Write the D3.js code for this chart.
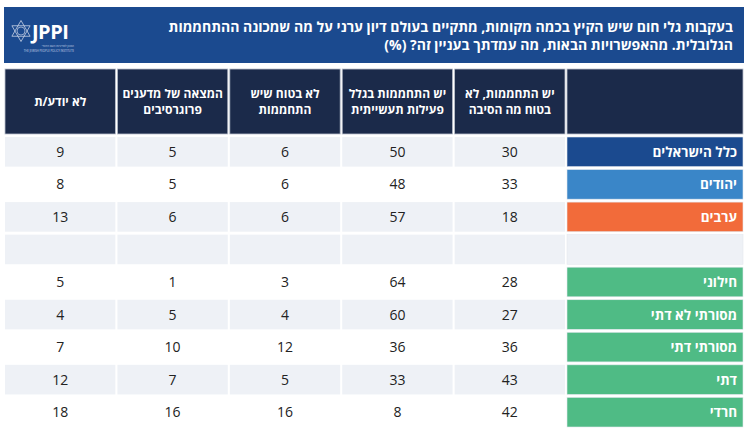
<!DOCTYPE html>
<html>
<head>
<meta charset="utf-8">
<script src="https://cdn.jsdelivr.net/npm/d3@7"></script>
<style>
  body { margin: 0; background: #fff; }
  text { font-family: "Open Sans", "Liberation Sans", "DejaVu Sans", sans-serif; }
</style>
</head>
<body>
<div id="chart"></div>
<script>
var width = 752,
  height = 445;

// title lines
var titleLines = [
  "בעקבות גלי חום שיש הקיץ בכמה מקומות, מתקיים בעולם דיון ערני על מה שמכונה ההתחממות",
  "הגלובלית. מהאפשרויות הבאות, מה עמדתך בעניין זה? (%)"
];

// column headers, right to left
var columns = ["c1", "c2", "c3", "c4", "c5"];
var headers = [
  ["יש התחממות, לא", "בטוח מה הסיבה"],
  ["יש התחממות בגלל", "פעילות תעשייתית"],
  ["לא בטוח שיש", "התחממות"],
  ["המצאה של מדענים", "פרוגרסיבים"],
  ["לא יודע/ת"]
];

// row groups ("" = spacer row)
var groups = ["כלל הישראלים", "יהודים", "ערבים", "", "חילוני", "מסורתי לא דתי", "מסורתי דתי", "דתי", "חרדי"];
var groupColors = ["#1b4a8f", "#3a86c8", "#f26b3a", "#eef1f6", "#4fbb85", "#4fbb85", "#4fbb85", "#4fbb85", "#4fbb85"];
var rowShade = [true, false, true, true, false, true, false, true, false];

// values per row, same order as columns
var values = [
  [30, 50, 6, 5, 9],
  [33, 48, 6, 5, 8],
  [18, 57, 6, 6, 13],
  null,
  [28, 64, 3, 1, 5],
  [27, 60, 4, 5, 4],
  [36, 36, 12, 10, 7],
  [43, 33, 5, 7, 12],
  [42, 8, 16, 16, 18]
];

var svg = d3.select("#chart").append("svg")
  .attr("width", width)
  .attr("height", height)
  .append("g");

var y = d3.scaleBand()
  .domain(d3.range(groups.length))
  .range([137, 427])
  .paddingInner(0.09);

// rtl: first column at the right
var x = d3.scaleBand()
  .domain(columns.slice().reverse())
  .range([5, 565])
  .paddingInner(0.018);

var labelX0 = 567, labelX1 = 743;

// banner
svg.append("rect")
  .attr("x", 4).attr("y", 7)
  .attr("width", 740).attr("height", 56)
  .attr("fill", "#1b4a8f");

svg.selectAll(".title")
  .data(titleLines)
  .enter()
  .append("text")
  .attr("class", "title")
  .attr("x", 733)
  .attr("y", function (d, i) { return 32 + i * 18; })
  .attr("text-anchor", "start")
  .attr("direction", "rtl")
  .attr("fill", "#fff")
  .attr("font-weight", "bold")
  .attr("font-size", 14)
  .text(function (d) { return d; });

// logo
var logo = svg.append("g").attr("transform", "translate(21,31)");
[0, 180].forEach(function (rot) {
  logo.append("path")
    .attr("d", "M0,-10.5 L9.1,5.25 L-9.1,5.25 Z")
    .attr("transform", "rotate(" + rot + ")")
    .attr("fill", "none")
    .attr("stroke", "#c9d3e6")
    .attr("stroke-width", 0.8);
});
logo.append("circle").attr("r", 4).attr("fill", "none").attr("stroke", "#c9d3e6").attr("stroke-width", 0.7);
svg.append("text")
  .attr("x", 32).attr("y", 39)
  .attr("fill", "#fff")
  .attr("font-weight", "bold")
  .attr("font-size", 20)
  .attr("letter-spacing", -0.5)
  .text("JPPI");
svg.append("text")
  .attr("x", 74).attr("y", 47)
  .attr("text-anchor", "end")
  .attr("fill", "#c9d3e6")
  .attr("font-size", 3)
  .text("המכון למדיניות העם היהודי");
svg.append("text")
  .attr("x", 74).attr("y", 52)
  .attr("text-anchor", "end")
  .attr("fill", "#c9d3e6")
  .attr("font-size", 2.8)
  .text("THE JEWISH PEOPLE POLICY INSTITUTE");

// header row
var headY = 69, headH = 65;
svg.append("rect")
  .attr("x", labelX0).attr("y", headY)
  .attr("width", labelX1 - labelX0).attr("height", headH)
  .attr("fill", "#1b2a4a")
  .attr("stroke", "#b8bfcc").attr("stroke-width", 0.8);

svg.selectAll(".head")
  .data(columns)
  .enter()
  .append("rect")
  .attr("class", "head")
  .attr("x", function (d) { return x(d); })
  .attr("y", headY)
  .attr("width", x.bandwidth())
  .attr("height", headH)
  .attr("fill", "#1b2a4a")
  .attr("stroke", "#b8bfcc").attr("stroke-width", 0.8);

columns.forEach(function (c, i) {
  var lines = headers[i];
  svg.selectAll(".ht" + i)
    .data(lines)
    .enter()
    .append("text")
    .attr("x", x(c) + x.bandwidth() / 2)
    .attr("y", function (d, j) { return headY + headH / 2 + (j - (lines.length - 1) / 2) * 16 + 4.5; })
    .attr("text-anchor", "middle")
    .attr("fill", "#fff")
    .attr("font-weight", "bold")
    .attr("font-size", 12)
    .text(function (d) { return d; });
});

// body rows
groups.forEach(function (g, r) {
  var rowFill = rowShade[r] ? "#eef1f6" : "#ffffff";

  svg.selectAll(".cell" + r)
    .data(columns)
    .enter()
    .append("rect")
    .attr("x", function (d) { return x(d); })
    .attr("y", y(r))
    .attr("width", x.bandwidth())
    .attr("height", y.bandwidth())
    .attr("fill", rowFill);

  svg.append("rect")
    .attr("x", labelX0).attr("y", y(r))
    .attr("width", labelX1 - labelX0).attr("height", y.bandwidth())
    .attr("fill", groupColors[r])
    .attr("stroke", "#e3e7ee").attr("stroke-width", 0.6);

  if (g != "") {
    svg.append("text")
      .attr("x", labelX1 - 6)
      .attr("y", y(r) + y.bandwidth() / 2 + 5)
      .attr("direction", "rtl")
      .attr("text-anchor", "start")
      .attr("fill", "#fff")
      .attr("font-weight", "bold")
      .attr("font-size", 13.5)
      .text(g);
  }

  if (values[r]) {
    svg.selectAll(".val" + r)
      .data(values[r])
      .enter()
      .append("text")
      .attr("x", function (d, i) { return x(columns[i]) + x.bandwidth() / 2; })
      .attr("y", y(r) + y.bandwidth() / 2 + 5)
      .attr("text-anchor", "middle")
      .attr("fill", "#222")
      .attr("font-size", 14)
      .text(function (d) { return d; });
  }
});
</script>
</body>
</html>
